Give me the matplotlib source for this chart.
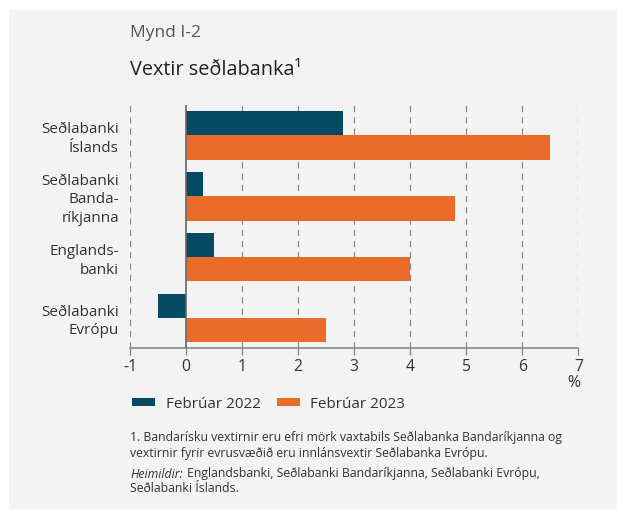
"""
Mynd I-2: Vextir seðlabanka, grouped horizontal bars.
"""

import matplotlib
matplotlib.use("Agg")
import matplotlib.pyplot as plt
from matplotlib.patches import Rectangle, Patch
import numpy as np

plt.rcParams["font.family"] = ["Open Sans", "DejaVu Sans"]

# data
banks = ["Seðlabanki\nÍslands", "Seðlabanki\nBanda-\nríkjanna", "Englands-\nbanki", "Seðlabanki\nEvrópu"]
feb_2022 = [2.8, 0.3, 0.5, -0.5]
feb_2023 = [6.5, 4.8, 4.0, 2.5]
series_labels = ["Febrúar 2022", "Febrúar 2023"]
x_ticks = list(range(-1, 8))

DARK = "#044a62"
ORANGE = "#ea6c28"
PANEL = "#f3f3f3"
TEXT = "#333333"

W, H = 617, 509
fig = plt.figure(figsize=(W / 100, H / 100), dpi=100)
fig.patch.set_facecolor("white")
fig.patches.append(Rectangle((9 / W, 0), 1 - 9 / W, 1 - 10 / H, transform=fig.transFigure,
                             facecolor=PANEL, edgecolor="none", zorder=-10))

ax = fig.add_axes([130 / W, 1 - 348.3 / H, (578.3 - 130) / W, (348.3 - 105) / H])
ax.set_facecolor(PANEL)

y = np.arange(len(banks))
h = 0.40
ax.barh(y - h / 2, feb_2022, height=h, color=DARK, zorder=3)
ax.barh(y + h / 2, feb_2023, height=h, color=ORANGE, zorder=3)

ax.set_xlim(-1, 7)
ax.set_ylim(3.5, -0.5)
ax.set_xticks(x_ticks)
ax.set_xticklabels([str(t) for t in x_ticks], fontsize=11.3, color=TEXT)
ax.set_yticks(y)
ax.set_yticklabels(banks, fontsize=11, color=TEXT, linespacing=1.32)
ax.tick_params(axis="y", length=0, pad=8)
ax.tick_params(axis="x", length=5, color="#888888", width=1, pad=3)

for t in x_ticks:
    if t == 0:
        ax.axvline(0, color="#666666", lw=1.2, zorder=4)
    else:
        ax.axvline(t, color="#888888", lw=0.9, ls=(0, (5, 4)), zorder=1)

for s in ["top", "right", "left"]:
    ax.spines[s].set_visible(False)
ax.spines["bottom"].set_color("#888888")
ax.spines["bottom"].set_linewidth(1.2)

fig.text(574 / W, 1 - 383 / H, "%", fontsize=11.3, color=TEXT, ha="center", va="center")

# titles
fig.text(130 / W, 1 - 33 / H, "Mynd I-2", fontsize=12.5, color="#555555", va="center")
fig.text(130 / W, 1 - 70 / H, "Vextir seðlabanka¹", fontsize=14.3, color="#222222", va="center")

# legend
handles = [Patch(facecolor=DARK), Patch(facecolor=ORANGE)]
fig.legend(handles, series_labels, loc="center left", bbox_to_anchor=(132 / W, 1 - 404 / H),
           ncol=2, frameon=False, fontsize=11, handlelength=1.5, handleheight=0.5,
           handletextpad=0.7, columnspacing=1.05, labelcolor=TEXT,
           borderaxespad=0, borderpad=0)

# notes
note = ("1. Bandarísku vextirnir eru efri mörk vaxtabils Seðlabanka Bandaríkjanna og\n"
        "vextirnir fyrir evrusvæðið eru innlánsvextir Seðlabanka Evrópu.")
fig.text(130 / W, 1 - 446 / H, note, fontsize=8.8, color=TEXT, va="center", linespacing=1.3)

src_label = fig.text(130 / W, 1 - 474 / H, "Heimildir:", fontsize=8.8, color=TEXT,
                     va="center", style="italic")
fig.canvas.draw()
label_right = src_label.get_window_extent().x1 / W
fig.text(label_right + 4 / W, 1 - 474 / H,
         "Englandsbanki, Seðlabanki Bandaríkjanna, Seðlabanki Evrópu,",
         fontsize=8.8, color=TEXT, va="center")
fig.text(130 / W, 1 - 489 / H, "Seðlabanki Íslands.", fontsize=8.8, color=TEXT, va="center")

fig.savefig("out.png", dpi=100, facecolor=fig.get_facecolor())
